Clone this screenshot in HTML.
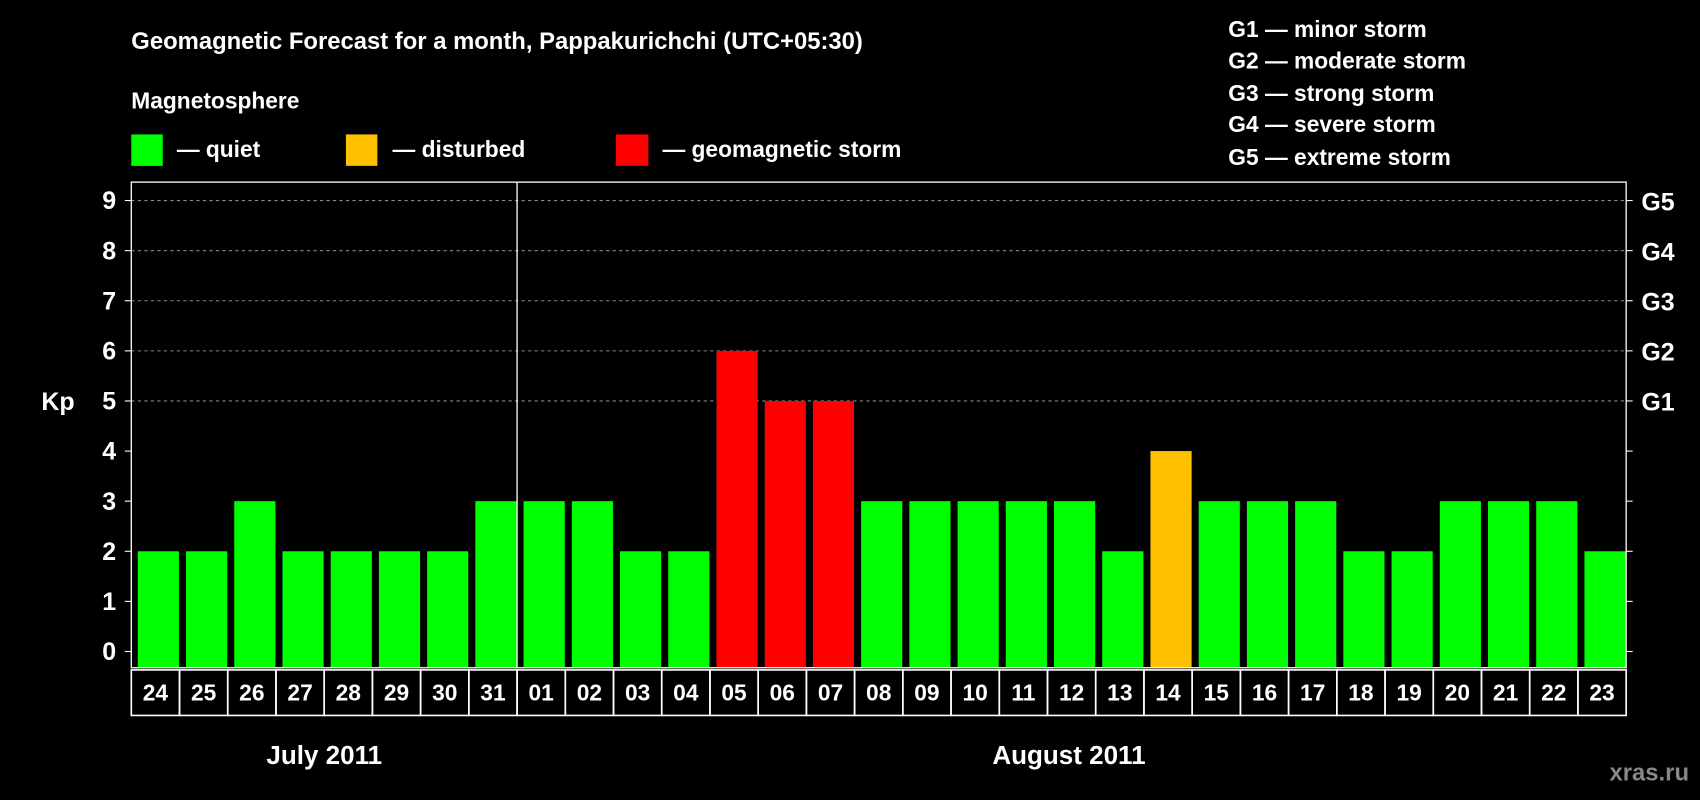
<!DOCTYPE html>
<html><head><meta charset="utf-8"><style>
html,body{margin:0;padding:0;background:#000;}
svg{display:block;font-family:"Liberation Sans",Arial,sans-serif;font-weight:bold;}
</style></head><body>
<svg id="chart" width="1700" height="800" viewBox="0 0 1568 738" xmlns="http://www.w3.org/2000/svg">
<rect x="0" y="0" width="1568" height="738" fill="#000"/>
<text x="121" y="45" fill="#fff" font-size="22">Geomagnetic Forecast for a month, Pappakurichchi (UTC+05:30)</text>
<text x="121" y="100" fill="#fff" font-size="21">Magnetosphere</text>
<g><rect x="121" y="124" width="29" height="29" fill="#00ff00"/><text x="163" y="145" fill="#fff" font-size="21">— quiet</text></g>
<g><rect x="319" y="124" width="29" height="29" fill="#ffc000"/><text x="362" y="145" fill="#fff" font-size="21">— disturbed</text></g>
<g><rect x="568" y="124" width="30" height="29" fill="#ff0000"/><text x="611" y="145" fill="#fff" font-size="21">— geomagnetic storm</text></g>
<g fill="#fff" font-size="21">
<text x="1133" y="34">G1 — minor storm</text>
<text x="1133" y="63">G2 — moderate storm</text>
<text x="1133" y="93">G3 — strong storm</text>
<text x="1133" y="122">G4 — severe storm</text>
<text x="1133" y="152">G5 — extreme storm</text>
</g>
<text x="38" y="378" fill="#fff" font-size="23">Kp</text>
<g id="grid"></g>
<g id="bars"></g>
<g id="axes"></g>
<text x="299" y="705" fill="#fff" font-size="24" text-anchor="middle">July 2011</text>
<text x="986" y="705" fill="#fff" font-size="24" text-anchor="middle">August 2011</text>
<text x="1558" y="720" fill="#888" font-size="22" text-anchor="end">xras.ru</text>
</svg>
<script>
const days = ["24","25","26","27","28","29","30","31","01","02","03","04","05","06","07","08","09","10","11","12","13","14","15","16","17","18","19","20","21","22","23"];
const kp = [2,2,3,2,2,2,2,3,3,3,2,2,6,5,5,3,3,3,3,3,2,4,3,3,3,2,2,3,3,3,2];
const yTicks = [0,1,2,3,4,5,6,7,8,9];
const gLabels = ["G1","G2","G3","G4","G5"];
const gLevels = [5,6,7,8,9];
const monthBreakIndex = 8;

const NS="http://www.w3.org/2000/svg";
const L=121,R=1500,T=168,B=616;
const cellW=(R-L)/days.length;
function y(v){return 601-v*(601-185)/9;}
function x(i){return L+i*cellW;}
function mk(tag,attrs,parent){const e=document.createElementNS(NS,tag);for(const k in attrs)e.setAttribute(k,attrs[k]);parent.appendChild(e);return e;}
const grid=document.getElementById('grid'),bars=document.getElementById('bars'),axes=document.getElementById('axes');
gLevels.forEach(v=>{
  const ln=mk('line',{x1:L,x2:R,y1:y(v),y2:y(v),stroke:'#888','stroke-dasharray':'3,3','stroke-width':1},grid);
  
  
});
kp.forEach((v,i)=>{
  const c=v>=5?'#ff0000':(v>=4?'#ffc000':'#00ff00');
  const r=mk('rect',{x:x(i)+6,y:y(v),width:cellW-6.5,height:601-y(v)+15,fill:c},bars);
  
  
});
mk('rect',{x:L,y:T,width:R-L,height:B-T,fill:'none',stroke:'#fff','stroke-width':1.2},axes);
const sep=mk('line',{x1:x(monthBreakIndex),x2:x(monthBreakIndex),y1:T,y2:B,stroke:'#fff','stroke-width':1.2},axes);


yTicks.forEach(v=>{
  mk('line',{x1:L-6,x2:L,y1:y(v),y2:y(v),stroke:'#fff'},axes);
  mk('line',{x1:R,x2:R+6,y1:y(v),y2:y(v),stroke:'#fff'},axes);
  const t=mk('text',{x:L-14,y:y(v)+8,fill:'#fff','font-size':23,'text-anchor':'end'},axes);
  t.textContent=v;
  
  
});
gLabels.forEach((g,i)=>{
  const t=mk('text',{x:R+14,y:y(gLevels[i])+9,fill:'#fff','font-size':23},axes);
  t.textContent=g;
  
  
});
days.forEach((d,i)=>{
  const r=mk('rect',{x:x(i),y:618,width:cellW,height:42,fill:'none',stroke:'#fff','stroke-width':1.5},axes);
  
  
  const t=mk('text',{x:x(i)+cellW/2,y:646,fill:'#fff','font-size':21,'text-anchor':'middle'},axes);
  t.textContent=d;
  
  
});
</script>
</body></html>
